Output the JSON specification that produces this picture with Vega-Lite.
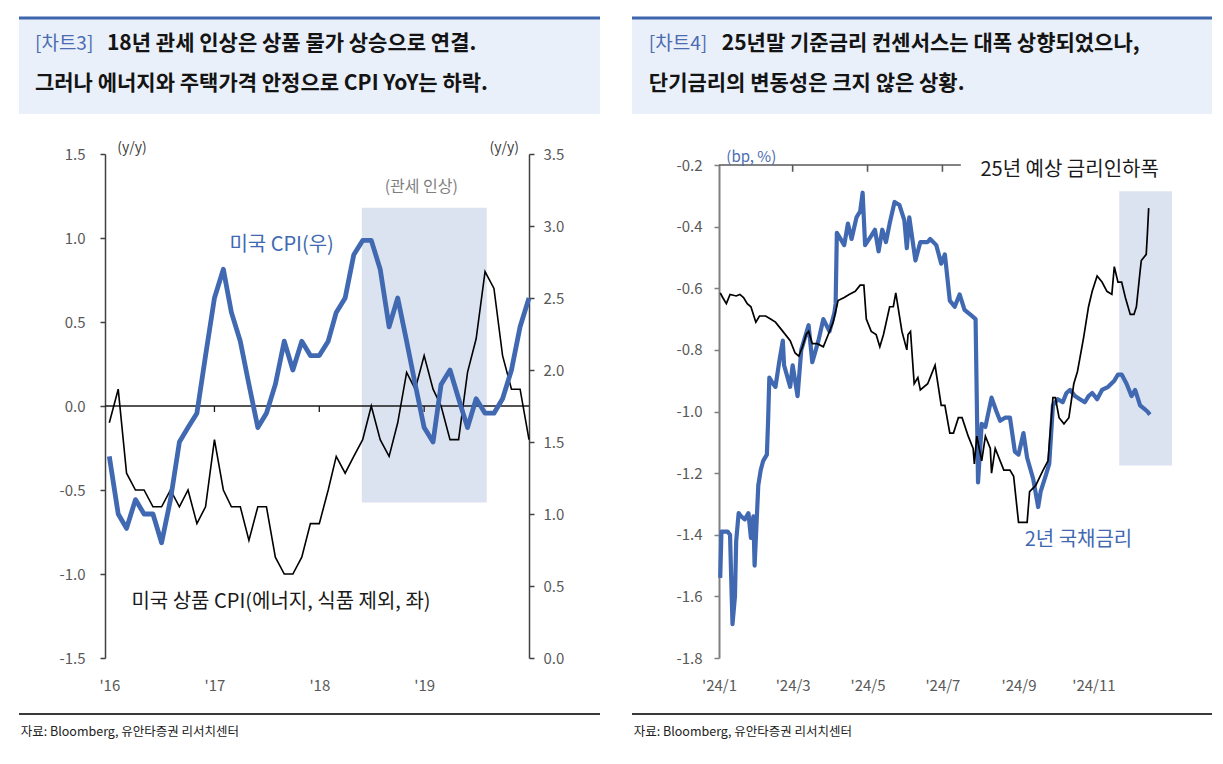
{
  "$schema": "https://vega.github.io/schema/vega-lite/v6.json",
  "background": "white",
  "padding": {"left": 17, "top": 16, "right": 0, "bottom": 0},
  "spacing": 28,
  "config": {
    "view": {"stroke": null},
    "font": "Noto Sans CJK KR",
    "locale": {"number": {"decimal": ".", "thousands": ",", "grouping": [3], "currency": ["$", ""], "minus": "-"}}
  },
  "datasets": {
    "c3": [
      {"date": "2016-01-01", "goods": -0.1, "cpi": 1.4},
      {"date": "2016-02-01", "goods": 0.1, "cpi": 1.0},
      {"date": "2016-03-01", "goods": -0.4, "cpi": 0.9},
      {"date": "2016-04-01", "goods": -0.5, "cpi": 1.1},
      {"date": "2016-05-01", "goods": -0.5, "cpi": 1.0},
      {"date": "2016-06-01", "goods": -0.6, "cpi": 1.0},
      {"date": "2016-07-01", "goods": -0.6, "cpi": 0.8},
      {"date": "2016-08-01", "goods": -0.5, "cpi": 1.1},
      {"date": "2016-09-01", "goods": -0.6, "cpi": 1.5},
      {"date": "2016-10-01", "goods": -0.5, "cpi": 1.6},
      {"date": "2016-11-01", "goods": -0.7, "cpi": 1.7},
      {"date": "2016-12-01", "goods": -0.6, "cpi": 2.1},
      {"date": "2017-01-01", "goods": -0.2, "cpi": 2.5},
      {"date": "2017-02-01", "goods": -0.5, "cpi": 2.7},
      {"date": "2017-03-01", "goods": -0.6, "cpi": 2.4},
      {"date": "2017-04-01", "goods": -0.6, "cpi": 2.2},
      {"date": "2017-05-01", "goods": -0.8, "cpi": 1.9},
      {"date": "2017-06-01", "goods": -0.6, "cpi": 1.6},
      {"date": "2017-07-01", "goods": -0.6, "cpi": 1.7},
      {"date": "2017-08-01", "goods": -0.9, "cpi": 1.9},
      {"date": "2017-09-01", "goods": -1.0, "cpi": 2.2},
      {"date": "2017-10-01", "goods": -1.0, "cpi": 2.0},
      {"date": "2017-11-01", "goods": -0.9, "cpi": 2.2},
      {"date": "2017-12-01", "goods": -0.7, "cpi": 2.1},
      {"date": "2018-01-01", "goods": -0.7, "cpi": 2.1},
      {"date": "2018-02-01", "goods": -0.5, "cpi": 2.2},
      {"date": "2018-03-01", "goods": -0.3, "cpi": 2.4},
      {"date": "2018-04-01", "goods": -0.4, "cpi": 2.5},
      {"date": "2018-05-01", "goods": -0.3, "cpi": 2.8},
      {"date": "2018-06-01", "goods": -0.2, "cpi": 2.9},
      {"date": "2018-07-01", "goods": 0.0, "cpi": 2.9},
      {"date": "2018-08-01", "goods": -0.2, "cpi": 2.7},
      {"date": "2018-09-01", "goods": -0.3, "cpi": 2.3},
      {"date": "2018-10-01", "goods": -0.1, "cpi": 2.5},
      {"date": "2018-11-01", "goods": 0.2, "cpi": 2.2},
      {"date": "2018-12-01", "goods": 0.1, "cpi": 1.9},
      {"date": "2019-01-01", "goods": 0.3, "cpi": 1.6},
      {"date": "2019-02-01", "goods": 0.1, "cpi": 1.5},
      {"date": "2019-03-01", "goods": 0.0, "cpi": 1.9},
      {"date": "2019-04-01", "goods": -0.2, "cpi": 2.0},
      {"date": "2019-05-01", "goods": -0.2, "cpi": 1.8},
      {"date": "2019-06-01", "goods": 0.2, "cpi": 1.6},
      {"date": "2019-07-01", "goods": 0.4, "cpi": 1.8},
      {"date": "2019-08-01", "goods": 0.8, "cpi": 1.7},
      {"date": "2019-09-01", "goods": 0.7, "cpi": 1.7},
      {"date": "2019-10-01", "goods": 0.3, "cpi": 1.8},
      {"date": "2019-11-01", "goods": 0.1, "cpi": 2.0},
      {"date": "2019-12-01", "goods": 0.1, "cpi": 2.3},
      {"date": "2020-01-01", "goods": -0.2, "cpi": 2.5}
    ],
    "yield2y": [
      {"date": "2024-01-02", "v": -1.54}, {"date": "2024-01-03", "v": -1.39}, {"date": "2024-01-08", "v": -1.39},
      {"date": "2024-01-10", "v": -1.40}, {"date": "2024-01-11", "v": -1.55}, {"date": "2024-01-12", "v": -1.69},
      {"date": "2024-01-14", "v": -1.60}, {"date": "2024-01-15", "v": -1.42}, {"date": "2024-01-17", "v": -1.33},
      {"date": "2024-01-19", "v": -1.34}, {"date": "2024-01-22", "v": -1.35}, {"date": "2024-01-25", "v": -1.33},
      {"date": "2024-01-27", "v": -1.41}, {"date": "2024-01-29", "v": -1.34}, {"date": "2024-01-30", "v": -1.50},
      {"date": "2024-02-02", "v": -1.24}, {"date": "2024-02-04", "v": -1.19}, {"date": "2024-02-06", "v": -1.16},
      {"date": "2024-02-09", "v": -1.14}, {"date": "2024-02-10", "v": -1.03}, {"date": "2024-02-11", "v": -0.89},
      {"date": "2024-02-14", "v": -0.91}, {"date": "2024-02-16", "v": -0.92}, {"date": "2024-02-19", "v": -0.84},
      {"date": "2024-02-22", "v": -0.77}, {"date": "2024-02-23", "v": -0.85}, {"date": "2024-02-28", "v": -0.92},
      {"date": "2024-03-01", "v": -0.85}, {"date": "2024-03-05", "v": -0.95}, {"date": "2024-03-08", "v": -0.80},
      {"date": "2024-03-11", "v": -0.76}, {"date": "2024-03-14", "v": -0.72}, {"date": "2024-03-17", "v": -0.84},
      {"date": "2024-03-22", "v": -0.77}, {"date": "2024-03-26", "v": -0.70}, {"date": "2024-03-31", "v": -0.74},
      {"date": "2024-04-04", "v": -0.68}, {"date": "2024-04-05", "v": -0.65}, {"date": "2024-04-06", "v": -0.42},
      {"date": "2024-04-09", "v": -0.44}, {"date": "2024-04-12", "v": -0.46}, {"date": "2024-04-15", "v": -0.39},
      {"date": "2024-04-18", "v": -0.44}, {"date": "2024-04-22", "v": -0.37}, {"date": "2024-04-25", "v": -0.35},
      {"date": "2024-04-27", "v": -0.29}, {"date": "2024-04-29", "v": -0.46}, {"date": "2024-05-04", "v": -0.43},
      {"date": "2024-05-07", "v": -0.41}, {"date": "2024-05-10", "v": -0.48}, {"date": "2024-05-13", "v": -0.41},
      {"date": "2024-05-16", "v": -0.45}, {"date": "2024-05-19", "v": -0.39}, {"date": "2024-05-23", "v": -0.32},
      {"date": "2024-05-27", "v": -0.33}, {"date": "2024-05-31", "v": -0.38}, {"date": "2024-06-02", "v": -0.47},
      {"date": "2024-06-04", "v": -0.37}, {"date": "2024-06-09", "v": -0.51}, {"date": "2024-06-13", "v": -0.45},
      {"date": "2024-06-19", "v": -0.45}, {"date": "2024-06-21", "v": -0.44}, {"date": "2024-06-26", "v": -0.46},
      {"date": "2024-06-30", "v": -0.52}, {"date": "2024-07-03", "v": -0.49}, {"date": "2024-07-07", "v": -0.64},
      {"date": "2024-07-11", "v": -0.66}, {"date": "2024-07-15", "v": -0.62}, {"date": "2024-07-19", "v": -0.67},
      {"date": "2024-07-25", "v": -0.69}, {"date": "2024-07-28", "v": -0.70}, {"date": "2024-07-30", "v": -1.23},
      {"date": "2024-08-02", "v": -1.04}, {"date": "2024-08-05", "v": -1.05}, {"date": "2024-08-10", "v": -0.955},
      {"date": "2024-08-14", "v": -1.00}, {"date": "2024-08-17", "v": -1.03}, {"date": "2024-08-21", "v": -1.02},
      {"date": "2024-08-25", "v": -1.02}, {"date": "2024-08-29", "v": -1.13}, {"date": "2024-09-01", "v": -1.14},
      {"date": "2024-09-05", "v": -1.07}, {"date": "2024-09-08", "v": -1.15}, {"date": "2024-09-13", "v": -1.22},
      {"date": "2024-09-17", "v": -1.31}, {"date": "2024-09-19", "v": -1.26}, {"date": "2024-09-23", "v": -1.21},
      {"date": "2024-09-26", "v": -1.17}, {"date": "2024-09-29", "v": -0.98}, {"date": "2024-10-03", "v": -0.96},
      {"date": "2024-10-07", "v": -0.97}, {"date": "2024-10-10", "v": -0.94}, {"date": "2024-10-13", "v": -0.93},
      {"date": "2024-10-17", "v": -0.95}, {"date": "2024-10-21", "v": -0.96}, {"date": "2024-10-25", "v": -0.97},
      {"date": "2024-10-28", "v": -0.95}, {"date": "2024-10-31", "v": -0.94}, {"date": "2024-11-04", "v": -0.96},
      {"date": "2024-11-08", "v": -0.93}, {"date": "2024-11-13", "v": -0.92}, {"date": "2024-11-18", "v": -0.90},
      {"date": "2024-11-21", "v": -0.88}, {"date": "2024-11-24", "v": -0.88}, {"date": "2024-11-28", "v": -0.91},
      {"date": "2024-12-02", "v": -0.95}, {"date": "2024-12-05", "v": -0.93}, {"date": "2024-12-09", "v": -0.98},
      {"date": "2024-12-12", "v": -0.99}, {"date": "2024-12-15", "v": -1.00}, {"date": "2024-12-17", "v": -1.01}
    ],
    "cut25": [
      {"date": "2024-01-02", "v": -0.615}, {"date": "2024-01-04", "v": -0.63}, {"date": "2024-01-07", "v": -0.65},
      {"date": "2024-01-10", "v": -0.62}, {"date": "2024-01-15", "v": -0.625}, {"date": "2024-01-18", "v": -0.62},
      {"date": "2024-01-21", "v": -0.63}, {"date": "2024-01-24", "v": -0.65}, {"date": "2024-01-27", "v": -0.66},
      {"date": "2024-01-31", "v": -0.71}, {"date": "2024-02-03", "v": -0.69}, {"date": "2024-02-08", "v": -0.69},
      {"date": "2024-02-12", "v": -0.70}, {"date": "2024-02-16", "v": -0.71}, {"date": "2024-02-22", "v": -0.74},
      {"date": "2024-02-28", "v": -0.77}, {"date": "2024-03-03", "v": -0.81}, {"date": "2024-03-06", "v": -0.82},
      {"date": "2024-03-09", "v": -0.79}, {"date": "2024-03-12", "v": -0.75}, {"date": "2024-03-14", "v": -0.74},
      {"date": "2024-03-17", "v": -0.78}, {"date": "2024-03-21", "v": -0.78}, {"date": "2024-03-26", "v": -0.79},
      {"date": "2024-03-30", "v": -0.75}, {"date": "2024-04-03", "v": -0.71}, {"date": "2024-04-07", "v": -0.64},
      {"date": "2024-04-12", "v": -0.63}, {"date": "2024-04-16", "v": -0.62}, {"date": "2024-04-21", "v": -0.61},
      {"date": "2024-04-25", "v": -0.59}, {"date": "2024-04-28", "v": -0.59}, {"date": "2024-04-30", "v": -0.70},
      {"date": "2024-05-04", "v": -0.74}, {"date": "2024-05-08", "v": -0.75}, {"date": "2024-05-11", "v": -0.79},
      {"date": "2024-05-14", "v": -0.75}, {"date": "2024-05-19", "v": -0.66}, {"date": "2024-05-22", "v": -0.66},
      {"date": "2024-05-24", "v": -0.615}, {"date": "2024-05-29", "v": -0.74}, {"date": "2024-06-02", "v": -0.80},
      {"date": "2024-06-03", "v": -0.75}, {"date": "2024-06-05", "v": -0.74}, {"date": "2024-06-08", "v": -0.91},
      {"date": "2024-06-11", "v": -0.89}, {"date": "2024-06-13", "v": -0.93}, {"date": "2024-06-19", "v": -0.91},
      {"date": "2024-06-21", "v": -0.89}, {"date": "2024-06-25", "v": -0.85}, {"date": "2024-06-30", "v": -0.98},
      {"date": "2024-07-03", "v": -0.98}, {"date": "2024-07-07", "v": -1.07}, {"date": "2024-07-10", "v": -1.07},
      {"date": "2024-07-14", "v": -1.02}, {"date": "2024-07-17", "v": -1.02}, {"date": "2024-07-22", "v": -1.08},
      {"date": "2024-07-26", "v": -1.12}, {"date": "2024-07-27", "v": -1.17}, {"date": "2024-07-29", "v": -1.08},
      {"date": "2024-08-02", "v": -1.16}, {"date": "2024-08-05", "v": -1.08}, {"date": "2024-08-09", "v": -1.12},
      {"date": "2024-08-10", "v": -1.20}, {"date": "2024-08-13", "v": -1.12}, {"date": "2024-08-20", "v": -1.19},
      {"date": "2024-08-25", "v": -1.19}, {"date": "2024-08-28", "v": -1.21}, {"date": "2024-09-01", "v": -1.36},
      {"date": "2024-09-08", "v": -1.36}, {"date": "2024-09-10", "v": -1.26}, {"date": "2024-09-15", "v": -1.24},
      {"date": "2024-09-21", "v": -1.19}, {"date": "2024-09-25", "v": -1.16}, {"date": "2024-09-29", "v": -0.955},
      {"date": "2024-10-01", "v": -0.955}, {"date": "2024-10-04", "v": -1.02}, {"date": "2024-10-08", "v": -1.04},
      {"date": "2024-10-12", "v": -1.02}, {"date": "2024-10-16", "v": -0.91}, {"date": "2024-10-19", "v": -0.87},
      {"date": "2024-10-24", "v": -0.76}, {"date": "2024-10-28", "v": -0.66}, {"date": "2024-10-31", "v": -0.61},
      {"date": "2024-11-04", "v": -0.56}, {"date": "2024-11-08", "v": -0.58}, {"date": "2024-11-12", "v": -0.61},
      {"date": "2024-11-16", "v": -0.62}, {"date": "2024-11-18", "v": -0.53}, {"date": "2024-11-21", "v": -0.58},
      {"date": "2024-11-24", "v": -0.58}, {"date": "2024-11-27", "v": -0.63}, {"date": "2024-12-01", "v": -0.685},
      {"date": "2024-12-04", "v": -0.685}, {"date": "2024-12-06", "v": -0.66}, {"date": "2024-12-09", "v": -0.545},
      {"date": "2024-12-10", "v": -0.51}, {"date": "2024-12-14", "v": -0.49}, {"date": "2024-12-15", "v": -0.42},
      {"date": "2024-12-16", "v": -0.34}
    ]
  },
  "hconcat": [
    {
      "bounds": "flush",
      "spacing": 40,
      "vconcat": [
        {
          "width": 581, "height": 96,
          "view": {"fill": "#EAF0FA", "stroke": null},
          "data": {"values": [{}]},
          "layer": [
            {"mark": {"type": "rule", "color": "#3F65AD", "strokeWidth": 3},
             "encoding": {"x": {"datum": 0, "type": "quantitative", "scale": {"domain": [0, 1], "nice": false}, "axis": null}, "x2": {"datum": 1},
                          "y": {"datum": 1, "type": "quantitative", "scale": {"domain": [0, 1], "nice": false}, "axis": null}}},
            {"mark": {"type": "text", "text": "[차트3]", "align": "left", "baseline": "middle", "fontSize": 19, "color": "#4A6BB0"},
             "encoding": {"x": {"datum": 0.0275, "type": "quantitative", "axis": null}, "y": {"datum": 0.729, "type": "quantitative", "axis": null}}},
            {"mark": {"type": "text", "text": "18년 관세 인상은 상품 물가 상승으로 연결.", "align": "left", "baseline": "middle", "fontSize": 21, "fontWeight": "bold", "color": "#141414", "dx": 72},
             "encoding": {"x": {"datum": 0.0275, "type": "quantitative", "axis": null}, "y": {"datum": 0.729, "type": "quantitative", "axis": null}}},
            {"mark": {"type": "text", "text": "그러나 에너지와 주택가격 안정으로 CPI YoY는 하락.", "align": "left", "baseline": "middle", "fontSize": 21, "fontWeight": "bold", "color": "#141414"},
             "encoding": {"x": {"datum": 0.0275, "type": "quantitative", "axis": null}, "y": {"datum": 0.3125, "type": "quantitative", "axis": null}}}
          ]
        },
        {
          "width": 581, "height": 504,
          "resolve": {"scale": {"y": "independent"}},
          "layer": [
            {
              "layer": [
                {"data": {"values": [{"start": "2018-05-29", "end": "2019-08-07"}]},
                 "mark": {"type": "rect", "color": "#DCE3F0"},
                 "encoding": {
                   "x": {"field": "start", "type": "temporal"},
                   "x2": {"field": "end"},
                   "y": {"datum": 1.18, "type": "quantitative"},
                   "y2": {"datum": -0.575}}},
                {"data": {"values": [{}]},
                 "mark": {"type": "rule", "color": "#1A1A1A", "strokeWidth": 1.3},
                 "encoding": {
                   "x": {"datum": {"year": 2015, "month": 12, "date": 17, "utc": true}, "type": "temporal"},
                   "x2": {"datum": {"year": 2020, "month": 1, "date": 1, "utc": true}},
                   "y": {"datum": 0, "type": "quantitative"}}},
                {"data": {"values": [{"d": "2017-01-01"}, {"d": "2018-01-01"}, {"d": "2019-01-01"}]},
                 "mark": {"type": "rule", "color": "#1A1A1A", "strokeWidth": 1.3},
                 "encoding": {
                   "x": {"field": "d", "type": "temporal"},
                   "y": {"datum": 0, "type": "quantitative"},
                   "y2": {"datum": -0.036}}},
                {"data": {"name": "c3"},
                 "mark": {"type": "line", "color": "#000000", "strokeWidth": 1.6},
                 "encoding": {
                   "x": {"field": "date", "type": "temporal",
                         "scale": {"type": "utc", "domain": [{"year": 2015, "month": 12, "date": 17, "utc": true}, {"year": 2020, "month": 1, "date": 1, "utc": true}], "range": [86, 510]},
                         "axis": {"values": [{"year": 2016, "month": 1, "date": 1, "utc": true}, {"year": 2017, "month": 1, "date": 1, "utc": true}, {"year": 2018, "month": 1, "date": 1, "utc": true}, {"year": 2019, "month": 1, "date": 1, "utc": true}],
                                  "labelExpr": "\"'\" + utcFormat(datum.value, '%y')", "domain": false, "ticks": false, "tickSize": 0, "labelPadding": 20, "grid": false, "title": null,
                                  "labelFontSize": 15, "labelColor": "#595959", "labelFlush": false, "labelOverlap": false}},
                   "y": {"field": "goods", "type": "quantitative",
                         "scale": {"domain": [-1.5, 1.5], "nice": false, "zero": false},
                         "axis": {"orient": "left", "offset": -86, "values": [-1.5, -1, -0.5, 0, 0.5, 1, 1.5], "format": ".1f", "grid": false, "title": null,
                                  "domainColor": "#404040", "domainWidth": 1.5, "tickColor": "#404040", "tickWidth": 1.5, "tickSize": 5,
                                  "labelPadding": 15, "labelFontSize": 15, "labelColor": "#595959"}}}},
                {"data": {"values": [{}]},
                 "layer": [
                   {"mark": {"type": "text", "text": "(y/y)", "align": "left", "baseline": "middle", "fontSize": 14, "color": "#404040"},
                    "encoding": {"x": {"datum": {"year": 2016, "month": 1, "date": 29, "utc": true}, "type": "temporal"},
                                 "y": {"datum": 1.533, "type": "quantitative"}}},
                   {"mark": {"type": "text", "text": "(y/y)", "align": "right", "baseline": "middle", "fontSize": 14, "color": "#404040"},
                    "encoding": {"x": {"datum": {"year": 2019, "month": 11, "date": 27, "utc": true}, "type": "temporal"},
                                 "y": {"datum": 1.533, "type": "quantitative"}}},
                   {"mark": {"type": "text", "text": "(관세 인상)", "align": "center", "baseline": "middle", "fontSize": 16, "color": "#7F7F7F"},
                    "encoding": {"x": {"datum": {"year": 2018, "month": 12, "date": 22, "utc": true}, "type": "temporal"},
                                 "y": {"datum": 1.304, "type": "quantitative"}}},
                   {"mark": {"type": "text", "text": "미국 상품 CPI(에너지, 식품 제외, 좌)", "align": "left", "baseline": "middle", "fontSize": 20, "color": "#1A1A1A"},
                    "encoding": {"x": {"datum": {"year": 2016, "month": 3, "date": 18, "utc": true}, "type": "temporal"},
                                 "y": {"datum": -1.168, "type": "quantitative"}}}
                 ]}
              ]
            },
            {
              "layer": [
                {"data": {"name": "c3"},
                 "mark": {"type": "line", "color": "#4169B2", "strokeWidth": 4.8, "strokeJoin": "round"},
                 "encoding": {
                   "x": {"field": "date", "type": "temporal"},
                   "y": {"field": "cpi", "type": "quantitative",
                         "scale": {"domain": [0, 3.5], "nice": false, "zero": false},
                         "axis": {"orient": "right", "offset": -71, "values": [0, 0.5, 1, 1.5, 2, 2.5, 3, 3.5], "format": ".1f", "grid": false, "title": null,
                                  "domainColor": "#404040", "domainWidth": 1.5, "tickColor": "#404040", "tickWidth": 1.5, "tickSize": 5,
                                  "labelPadding": 9, "labelFontSize": 15, "labelColor": "#595959"}}}},
                {"data": {"values": [{}]},
                 "mark": {"type": "text", "text": "미국 CPI(우)", "align": "left", "baseline": "middle", "fontSize": 20, "color": "#4169B2"},
                 "encoding": {"x": {"datum": {"year": 2017, "month": 2, "date": 22, "utc": true}, "type": "temporal"},
                              "y": {"datum": 2.865, "type": "quantitative"}}}
              ]
            }
          ]
        },
        {
          "width": 581, "height": 50,
          "data": {"values": [{}]},
          "layer": [
            {"mark": {"type": "rule", "color": "#3A3A3A", "strokeWidth": 2.2},
             "encoding": {"x": {"datum": 0, "type": "quantitative", "scale": {"domain": [0, 1], "nice": false}, "axis": null}, "x2": {"datum": 1},
                          "y": {"datum": 0.68, "type": "quantitative", "scale": {"domain": [0, 1], "nice": false}, "axis": null}}},
            {"mark": {"type": "text", "text": "자료: Bloomberg, 유안타증권 리서치센터", "align": "left", "baseline": "middle", "fontSize": 12.5, "color": "#222222"},
             "encoding": {"x": {"datum": 0.003, "type": "quantitative", "axis": null}, "y": {"datum": 0.32, "type": "quantitative", "axis": null}}}
          ]
        }
      ]
    },
    {
      "bounds": "flush",
      "spacing": 51,
      "vconcat": [
        {
          "width": 580, "height": 96,
          "view": {"fill": "#EAF0FA", "stroke": null},
          "data": {"values": [{}]},
          "layer": [
            {"mark": {"type": "rule", "color": "#3F65AD", "strokeWidth": 3},
             "encoding": {"x": {"datum": 0, "type": "quantitative", "scale": {"domain": [0, 1], "nice": false}, "axis": null}, "x2": {"datum": 1},
                          "y": {"datum": 1, "type": "quantitative", "scale": {"domain": [0, 1], "nice": false}, "axis": null}}},
            {"mark": {"type": "text", "text": "[차트4]", "align": "left", "baseline": "middle", "fontSize": 19, "color": "#4A6BB0"},
             "encoding": {"x": {"datum": 0.029, "type": "quantitative", "axis": null}, "y": {"datum": 0.729, "type": "quantitative", "axis": null}}},
            {"mark": {"type": "text", "text": "25년말 기준금리 컨센서스는 대폭 상향되었으나,", "align": "left", "baseline": "middle", "fontSize": 21, "fontWeight": "bold", "color": "#141414", "dx": 73},
             "encoding": {"x": {"datum": 0.029, "type": "quantitative", "axis": null}, "y": {"datum": 0.729, "type": "quantitative", "axis": null}}},
            {"mark": {"type": "text", "text": "단기금리의 변동성은 크지 않은 상황.", "align": "left", "baseline": "middle", "fontSize": 21, "fontWeight": "bold", "color": "#141414"},
             "encoding": {"x": {"datum": 0.029, "type": "quantitative", "axis": null}, "y": {"datum": 0.3125, "type": "quantitative", "axis": null}}}
          ]
        },
        {
          "width": 580, "height": 493,
          "layer": [
            {"data": {"values": [{"start": "2024-11-22", "end": "2025-01-04"}]},
             "mark": {"type": "rect", "color": "#DCE3F0"},
             "encoding": {
               "x": {"field": "start", "type": "temporal"},
               "x2": {"field": "end"},
               "y": {"datum": -0.285, "type": "quantitative"},
               "y2": {"datum": -1.175}}},
            {"data": {"values": [{}]},
             "mark": {"type": "rule", "color": "#595959", "strokeWidth": 1.6},
             "encoding": {
               "x": {"datum": {"year": 2024, "month": 1, "date": 1, "utc": true}, "type": "temporal"},
               "x2": {"datum": {"year": 2024, "month": 7, "date": 16, "utc": true}},
               "y": {"datum": -0.2, "type": "quantitative"}}},
            {"data": {"values": [{"d": "2024-03-01"}, {"d": "2024-05-01"}, {"d": "2024-07-01"}]},
             "mark": {"type": "rule", "color": "#595959", "strokeWidth": 1.6},
             "encoding": {
               "x": {"field": "d", "type": "temporal"},
               "y": {"datum": -0.2, "type": "quantitative"},
               "y2": {"datum": -0.222}}},
            {"data": {"name": "yield2y"},
             "mark": {"type": "line", "color": "#4169B2", "strokeWidth": 4.2, "strokeJoin": "round"},
             "encoding": {
               "x": {"field": "date", "type": "temporal",
                     "scale": {"type": "utc", "domain": [{"year": 2024, "month": 1, "date": 1, "utc": true}, {"year": 2025, "month": 1, "date": 4, "utc": true}], "range": [87, 540]},
                     "axis": {"values": [{"year": 2024, "month": 1, "date": 1, "utc": true}, {"year": 2024, "month": 3, "date": 1, "utc": true}, {"year": 2024, "month": 5, "date": 1, "utc": true}, {"year": 2024, "month": 7, "date": 1, "utc": true}, {"year": 2024, "month": 9, "date": 1, "utc": true}, {"year": 2024, "month": 11, "date": 1, "utc": true}],
                              "labelExpr": "\"'\" + utcFormat(datum.value, '%y/%-m')", "domain": false, "ticks": false, "tickSize": 0, "labelPadding": 20, "grid": false, "title": null,
                              "labelFontSize": 15, "labelColor": "#595959", "labelFlush": false, "labelOverlap": false}},
               "y": {"field": "v", "type": "quantitative",
                     "scale": {"domain": [-1.8, -0.2], "nice": false, "zero": false},
                     "axis": {"orient": "left", "offset": -87, "values": [-1.8, -1.6, -1.4, -1.2, -1.0, -0.8, -0.6, -0.4, -0.2], "format": ".1f", "grid": false, "title": null,
                              "domainColor": "#808080", "domainWidth": 2, "tickColor": "#808080", "tickWidth": 1.5, "tickSize": 5,
                              "labelPadding": 12, "labelFontSize": 15, "labelColor": "#595959"}}}},
            {"data": {"name": "cut25"},
             "mark": {"type": "line", "color": "#000000", "strokeWidth": 1.7},
             "encoding": {
               "x": {"field": "date", "type": "temporal"},
               "y": {"field": "v", "type": "quantitative"}}},
            {"data": {"values": [{}]},
             "layer": [
               {"mark": {"type": "text", "text": "(bp, %)", "align": "left", "baseline": "middle", "fontSize": 15, "color": "#4A6BB0"},
                "encoding": {"x": {"datum": {"year": 2024, "month": 1, "date": 7, "utc": true}, "type": "temporal"},
                             "y": {"datum": -0.174, "type": "quantitative"}}},
               {"mark": {"type": "text", "text": "25년 예상 금리인하폭", "align": "left", "baseline": "middle", "fontSize": 20, "color": "#1A1A1A"},
                "encoding": {"x": {"datum": {"year": 2024, "month": 8, "date": 1, "utc": true}, "type": "temporal"},
                             "y": {"datum": -0.216, "type": "quantitative"}}},
               {"mark": {"type": "text", "text": "2년 국채금리", "align": "left", "baseline": "middle", "fontSize": 20, "color": "#4169B2"},
                "encoding": {"x": {"datum": {"year": 2024, "month": 9, "date": 6, "utc": true}, "type": "temporal"},
                             "y": {"datum": -1.418, "type": "quantitative"}}}
             ]}
          ]
        },
        {
          "width": 580, "height": 50,
          "data": {"values": [{}]},
          "layer": [
            {"mark": {"type": "rule", "color": "#3A3A3A", "strokeWidth": 2.2},
             "encoding": {"x": {"datum": 0, "type": "quantitative", "scale": {"domain": [0, 1], "nice": false}, "axis": null}, "x2": {"datum": 1},
                          "y": {"datum": 0.9, "type": "quantitative", "scale": {"domain": [0, 1], "nice": false}, "axis": null}}},
            {"mark": {"type": "text", "text": "자료: Bloomberg, 유안타증권 리서치센터", "align": "left", "baseline": "middle", "fontSize": 12.5, "color": "#222222"},
             "encoding": {"x": {"datum": 0.003, "type": "quantitative", "axis": null}, "y": {"datum": 0.54, "type": "quantitative", "axis": null}}}
          ]
        }
      ]
    }
  ]
}
